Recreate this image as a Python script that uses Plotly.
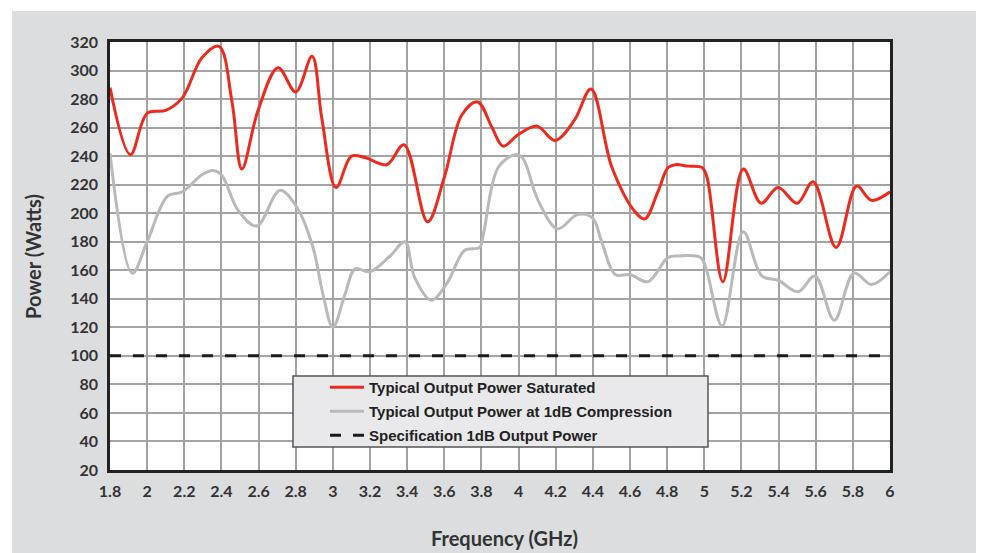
import plotly.graph_objects as go

# ---- data ----
sat_freq = [1.80, 1.91, 2.00, 2.10, 2.19, 2.295, 2.387, 2.457, 2.51, 2.597, 2.705, 2.80, 2.888,
            2.94, 3.017, 3.10, 3.173, 3.29, 3.383, 3.51, 3.60, 3.695, 3.78, 3.857, 3.917, 3.997,
            4.10, 4.196, 4.30, 4.39, 4.503, 4.627, 4.68, 4.75, 4.805, 4.843, 4.913, 4.988, 5.015,
            5.10, 5.21, 5.306, 5.397, 5.50, 5.586, 5.71, 5.82, 5.90, 6.00]
sat_power = [288, 241, 270, 272, 281, 309, 317, 278, 231, 272, 302, 285, 310,
             267, 218, 240, 239, 234, 248, 194, 225, 269, 278, 260, 247, 255,
             261, 251, 265, 287, 232, 201, 196, 215, 232, 234, 233, 232, 225,
             152, 231, 207, 218, 207, 222, 176, 219, 209, 215]

comp_freq = [1.80, 1.92, 2.00, 2.11, 2.19, 2.295, 2.355, 2.40, 2.49, 2.59, 2.715, 2.807, 2.893,
             2.947, 3.00, 3.065, 3.12, 3.20, 3.308, 3.388, 3.44, 3.53, 3.615, 3.71, 3.79, 3.81,
             3.89, 3.98, 4.02, 4.105, 4.21, 4.316, 4.396, 4.45, 4.52, 4.60, 4.697, 4.805, 4.86,
             4.98, 5.01, 5.096, 5.21, 5.31, 5.397, 5.505, 5.596, 5.70, 5.806, 5.90, 6.00]
comp_power = [242, 158, 180, 212, 215, 227, 230, 227, 202, 191, 216, 204, 176,
              143, 120, 143, 161, 159, 170, 180, 155, 139, 151, 174, 176, 185,
              232, 241, 239, 209, 189, 199, 197, 179, 157, 157, 152, 169, 170,
              169, 161, 121, 187, 156, 153, 145, 156, 125, 158, 150, 159]

spec_freq = [1.8, 6.0]
spec_power = [100, 100]

x_ticks = [1.8, 2.0, 2.2, 2.4, 2.6, 2.8, 3.0, 3.2, 3.4, 3.6, 3.8, 4.0, 4.2, 4.4, 4.6, 4.8,
           5.0, 5.2, 5.4, 5.6, 5.8, 6.0]
x_tick_text = ["1.8", "2", "2.2", "2.4", "2.6", "2.8", "3", "3.2", "3.4", "3.6", "3.8", "4",
               "4.2", "4.4", "4.6", "4.8", "5", "5.2", "5.4", "5.6", "5.8", "6"]
y_ticks = [20, 40, 60, 80, 100, 120, 140, 160, 180, 200, 220, 240, 260, 280, 300, 320]

names = ["Typical Output Power Saturated",
         "Typical Output Power at 1dB Compression",
         "Specification 1dB Output Power"]
x_title = "Frequency (GHz)"
y_title = "Power (Watts)"

W, H = 981, 553
L, R, T, B = 110, 890, 42, 470

fig = go.Figure()
fig.add_trace(go.Scatter(x=sat_freq, y=sat_power, mode="lines", name=names[0],
                         legendgroup="a",
                         line=dict(color="#ec2a1e", width=3, shape="spline", smoothing=1.0)))
fig.add_trace(go.Scatter(x=comp_freq, y=comp_power, mode="lines", name=names[1],
                         legendgroup="b",
                         line=dict(color="#b9b9b9", width=3, shape="spline", smoothing=1.0)))
fig.add_trace(go.Scatter(x=spec_freq, y=spec_power, mode="lines", name=names[2],
                         legendgroup="c",
                         line=dict(color="#1a1a1a", width=3, dash="11px,12px")))

pw = R - L
ph = B - T
# grey panel behind the chart
fig.add_shape(type="rect", xref="paper", yref="paper", layer="below",
              x0=(12 - L) / pw, x1=(976 - L) / pw, y0=(B - 560) / ph, y1=(B - 11) / ph,
              fillcolor="#dcdddf", line_width=0)
# white plotting area
fig.add_shape(type="rect", xref="paper", yref="paper", layer="below",
              x0=0, x1=1, y0=0, y1=1, fillcolor="white", line_width=0)
# legend box
fig.add_shape(type="rect", xref="paper", yref="paper", layer="above",
              x0=(293 - L) / pw, x1=(708 - L) / pw, y0=(B - 447) / ph, y1=(B - 376) / ph,
              fillcolor="#e9e9eb", line=dict(color="#555555", width=1.5))

tick_font = dict(family="Lato", size=16, color="#333333", weight="bold")
title_font = dict(family="Lato", size=20, color="#333333", weight="bold")

fig.add_annotation(text=x_title, xref="paper", yref="paper",
                   x=(504 - L) / pw, y=(B - 538) / ph, xanchor="center", yanchor="middle",
                   showarrow=False, font=title_font)
fig.add_annotation(text=y_title, xref="paper", yref="paper", textangle=-90,
                   x=(33 - L) / pw, y=(B - 257) / ph, xanchor="center", yanchor="middle",
                   showarrow=False, font=title_font)

fig.update_layout(
    width=W, height=H,
    margin=dict(l=L, r=W - R, t=T, b=H - B),
    paper_bgcolor="white", plot_bgcolor="white",
    showlegend=True,
    legend=dict(x=(325 - L) / pw, y=(B - 371) / ph, xanchor="left", yanchor="top",
                bgcolor="rgba(0,0,0,0)", borderwidth=0,
                font=dict(family="Liberation Sans", size=15, color="#222222", weight="bold"),
                traceorder="grouped", tracegroupgap=1.5, itemwidth=34),
    xaxis=dict(range=[1.8, 6.0], tickvals=x_ticks, ticktext=x_tick_text, tickfont=tick_font,
               showgrid=True, gridcolor="#a3a3a3", gridwidth=1.5, automargin=False,
               showline=True, linecolor="#222222", linewidth=2.5, mirror=True,
               zeroline=False, ticks="", ticklabelstandoff=5),
    yaxis=dict(range=[20, 320], tickvals=y_ticks, tickfont=tick_font,
               showgrid=True, gridcolor="#a3a3a3", gridwidth=1.5, automargin=False,
               showline=True, linecolor="#222222", linewidth=2.5, mirror=True,
               zeroline=False, ticks="", ticklabelstandoff=6),
)

fig.write_html("out.html", config={"displayModeBar": False},
               post_script="document.body.style.margin='0';")
